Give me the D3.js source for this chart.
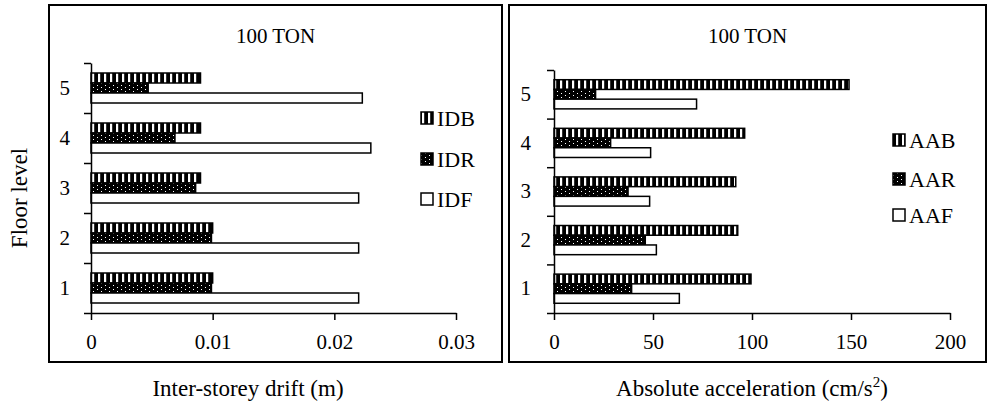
<!DOCTYPE html>
<html>
<head>
<meta charset="utf-8">
<script src="https://cdn.jsdelivr.net/npm/d3@7"></script>
<style>
  body { margin: 0; background: #fff; }
  svg { font-family: "Liberation Serif", "Times New Roman", serif; }
  .axis text { font-size: 21px; fill: #000; font-family: "Liberation Serif", serif; }
  .axis path, .axis line { stroke: #000; stroke-width: 1.5px; }
  .bar { stroke: #000; stroke-width: 1.5px; }
</style>
</head>
<body>
<svg id="chart" width="989" height="404"></svg>
<script>
// floors, top to bottom as drawn
const floors = ["5", "4", "3", "2", "1"];

// inter-storey drift (m), per floor 5..1
const idb = [0.009, 0.009, 0.009, 0.010, 0.010];
const idr = [0.0047, 0.0069, 0.0086, 0.0099, 0.0099];
const idf = [0.0223, 0.0230, 0.0220, 0.0220, 0.0220];

// absolute acceleration (cm/s2), per floor 5..1
const aab = [149, 96.3, 91.8, 92.8, 99.5];
const aar = [21, 28.6, 37.4, 46.1, 39.2];
const aaf = [72, 48.8, 48.3, 51.7, 63.3];

const driftTicks = [0, 0.01, 0.02, 0.03];
const accTicks = [0, 50, 100, 150, 200];

const svg = d3.select("#chart");
const defs = svg.append("defs");

// vertical stripes pattern (B series)
const stripes = defs.append("pattern").attr("id", "stripes")
    .attr("patternUnits", "userSpaceOnUse").attr("width", 6).attr("height", 6);
stripes.append("rect").attr("width", 6).attr("height", 6).attr("fill", "#000");
stripes.append("rect").attr("x", 2).attr("width", 2.2).attr("height", 6).attr("fill", "#fff");

// dark dotted pattern (R series)
const dots = defs.append("pattern").attr("id", "dots")
    .attr("patternUnits", "userSpaceOnUse").attr("width", 8).attr("height", 4);
dots.append("rect").attr("width", 8).attr("height", 4).attr("fill", "#000");
dots.append("rect").attr("x", 1).attr("y", 1).attr("width", 1).attr("height", 1).attr("fill", "#fff");
dots.append("rect").attr("x", 5).attr("y", 3).attr("width", 1).attr("height", 1).attr("fill", "#fff");

const fills = ["url(#stripes)", "url(#dots)", "#fff"];

function panel(cfg) {
    // border
    svg.append("rect")
        .attr("x", cfg.box[0]).attr("y", cfg.box[1])
        .attr("width", cfg.box[2] - cfg.box[0]).attr("height", cfg.box[3] - cfg.box[1])
        .attr("fill", "none").attr("stroke", "#000").attr("stroke-width", 2);

    const x = d3.scaleLinear().domain(cfg.domain).range([cfg.left, cfg.right]);
    const y = d3.scaleBand().domain(floors).range([cfg.top, cfg.bottom])
        .paddingInner(0.4).paddingOuter(0.2);
    const ySub = d3.scaleBand().domain([0, 1, 2]).range([0, y.bandwidth()]);
    const yEdge = d3.scaleLinear().domain([0, floors.length]).range([cfg.bottom, cfg.top]);

    const g = svg.append("g");

    cfg.series.forEach((vals, si) => {
        g.selectAll(null).data(vals).enter().append("rect")
            .attr("class", "bar")
            .attr("x", x(0))
            .attr("y", (d, i) => y(floors[i]) + ySub(si))
            .attr("width", d => x(d) - x(0))
            .attr("height", ySub.bandwidth())
            .attr("fill", fills[si]);
    });

    // x axis
    g.append("g").attr("class", "axis")
        .attr("transform", `translate(0,${cfg.bottom})`)
        .call(d3.axisBottom(x).tickValues(cfg.ticks).tickFormat(cfg.fmt)
            .tickSizeInner(7).tickSizeOuter(0).tickPadding(14));

    // y axis boundary ticks
    g.append("g").attr("class", "axis")
        .attr("transform", `translate(${cfg.left},0)`)
        .call(d3.axisLeft(yEdge).ticks(5).tickFormat("").tickSizeInner(7).tickSizeOuter(0));

    // y category labels
    const yl = g.append("g").attr("class", "axis")
        .attr("transform", `translate(${cfg.left},0)`)
        .call(d3.axisLeft(y).tickSize(0).tickPadding(cfg.labelPad));
    yl.select(".domain").remove();

    // title
    svg.append("text")
        .attr("x", (cfg.box[0] + cfg.box[2]) / 2).attr("y", 43)
        .attr("text-anchor", "middle").attr("font-size", 21)
        .text("100 TON");

    // legend
    const lg = svg.append("g");
    cfg.legend.forEach((name, i) => {
        const cy = cfg.legendY[i];
        lg.append("rect")
            .attr("x", cfg.legendX).attr("y", cy - 6)
            .attr("width", 12).attr("height", 12)
            .attr("fill", fills[i]).attr("stroke", "#000").attr("stroke-width", 1.5);
        lg.append("text")
            .attr("x", cfg.legendX + 16).attr("y", cy + 7.5)
            .attr("font-size", 22).text(name);
    });
}

panel({
    box: [49, 5, 502, 362],
    left: 91, right: 456, top: 63, bottom: 313,
    domain: [0, 0.03], ticks: driftTicks, fmt: d => d === 0 ? "0" : d3.format(".2f")(d),
    series: [idb, idr, idf],
    labelPad: 21,
    legend: ["IDB", "IDR", "IDF"], legendX: 421, legendY: [118, 159, 199]
});

panel({
    box: [509, 5, 986, 362],
    left: 554, right: 950, top: 70, bottom: 313,
    domain: [0, 200], ticks: accTicks, fmt: d3.format("d"),
    series: [aab, aar, aaf],
    labelPad: 23,
    legend: ["AAB", "AAR", "AAF"], legendX: 893, legendY: [140, 179, 215]
});

// axis titles
svg.append("text")
    .attr("transform", "translate(27,198) rotate(-90)")
    .attr("text-anchor", "middle").attr("font-size", 23)
    .text("Floor level");

svg.append("text")
    .attr("x", 248).attr("y", 396)
    .attr("text-anchor", "middle").attr("font-size", 23)
    .text("Inter-storey drift (m)");

const acc = svg.append("text")
    .attr("x", 752).attr("y", 396)
    .attr("text-anchor", "middle").attr("font-size", 23);
acc.append("tspan").text("Absolute acceleration (cm/s");
acc.append("tspan").attr("font-size", 15).attr("dy", -9).text("2");
acc.append("tspan").attr("dy", 9).text(")");
</script>
</body>
</html>
